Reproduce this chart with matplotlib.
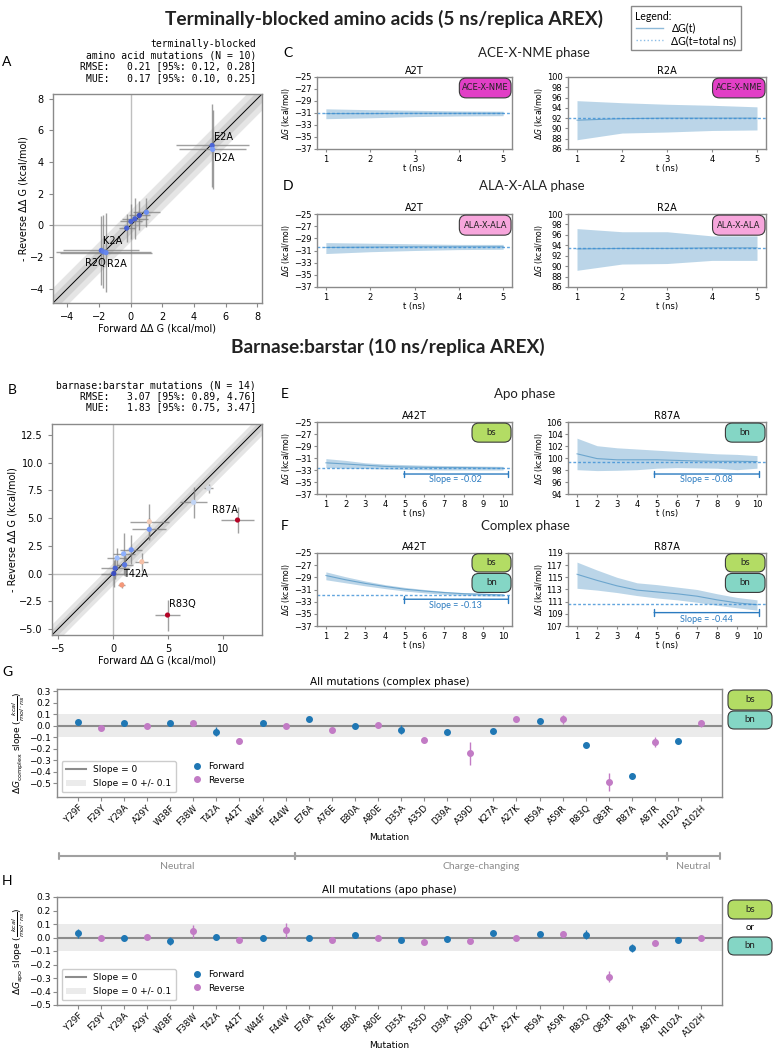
"""Recreate the AREX convergence figure (panels A-H)."""

import matplotlib
matplotlib.use("Agg")
import matplotlib.pyplot as plt
import matplotlib.transforms as mtransforms
import numpy as np
from matplotlib.lines import Line2D
from matplotlib.patches import Patch, FancyBboxPatch

W, H = 780, 1050
BLUE = "#1f77b4"
PINK = "#c27bc5"
SLOPE_BLUE = "#2b7bc0"
TITLE_FONT = "Lato"

# ---- panel A: terminally-blocked amino acids --------------------------------
a_labels = ["E2A", "D2A", "K2A", "R2Q", "R2A", "", "", "", "", ""]
a_fwd = [5.15, 5.18, -1.85, -1.72, -1.55, -0.25, 0.02, 0.27, 0.55, 1.0]
a_rev = [5.05, 4.8, -1.58, -1.66, -1.72, -0.17, 0.25, 0.42, 0.63, 0.83]
a_fwd_err = [2.3, 2.1, 2.4, 3.0, 2.9, 0.5, 0.7, 0.8, 0.65, 0.85]
a_rev_err = [2.6, 2.5, 2.2, 2.3, 2.5, 0.9, 1.1, 1.3, 0.9, 0.9]
a_colors = ["#4b64d5", "#7a9af8", "#5470de", "#5d7ce6", "#6687ed",
            "#4961d2", "#4b64d5", "#4961d2", "#3d50c3", "#6c8ff1"]
a_stats = ("terminally-blocked\namino acid mutations (N = 10)\n"
           "RMSE:   0.21 [95%: 0.12, 0.28]\nMUE:   0.17 [95%: 0.10, 0.25]")

# ---- panel B: barnase:barstar ------------------------------------------------
b_labels = ["", "", "", "", "", "", "T42A", "", "", "", "", "", "R87A", "R83Q"]
b_fwd = [0.05, 0.18, 0.36, 0.95, 1.04, 1.64, 0.78, 2.6, 3.28, 3.28, 7.3, 8.66, 11.28, 4.93]
b_rev = [0.0, 0.48, 1.4, 1.78, 0.79, 2.14, -1.03, 1.06, 4.68, 3.99, 6.43, 7.7, 4.83, -3.75]
b_fwd_err = [1.2, 1.3, 0.9, 1.0, 0.8, 1.0, 0.3, 0.6, 1.75, 1.55, 1.25, 0.4, 1.5, 1.1]
b_rev_err = [1.2, 1.0, 0.9, 1.9, 1.0, 1.3, 0.3, 0.8, 1.6, 1.0, 1.4, 0.4, 1.2, 1.4]
b_colors = ["#3b4cc0", "#4a63d3", "#9ebeff", "#8db0fe", "#5977e3", "#6f92f3", "#f4987a",
            "#f5c0a7", "#f2cbb7", "#7396f5", "#c0d4f5", "#d5dbe5", "#b40426", "#b40426"]
b_stats = ("barnase:barstar mutations (N = 14)\n"
           "RMSE:   3.07 [95%: 0.89, 4.76]\nMUE:   1.83 [95%: 0.75, 3.47]")

# ---- panels C/D: dG(t) for terminally-blocked (5 ns) -------------------------
t5 = [1, 2, 3, 4, 5]
c_a2t_mean = [-31.1, -31.1, -31.05, -31.05, -31.05]
c_a2t_hi = [-30.3, -30.45, -30.55, -30.65, -30.7]
c_a2t_lo = [-31.95, -31.8, -31.6, -31.5, -31.45]
c_a2t_final = -31.05
c_r2a_mean = [91.6, 91.9, 92.0, 92.0, 92.0]
c_r2a_hi = [95.4, 95.0, 94.7, 94.5, 94.2]
c_r2a_lo = [87.8, 89.1, 89.3, 89.6, 89.7]
c_r2a_final = 92.0
d_a2t_mean = [-30.5, -30.45, -30.4, -30.4, -30.4]
d_a2t_hi = [-29.7, -29.8, -29.9, -30.0, -30.0]
d_a2t_lo = [-31.5, -31.2, -31.0, -30.85, -30.8]
d_a2t_final = -30.4
d_r2a_mean = [93.3, 93.4, 93.4, 93.5, 93.5]
d_r2a_hi = [97.2, 96.6, 96.6, 95.8, 95.8]
d_r2a_lo = [89.2, 90.4, 90.5, 91.1, 91.1]
d_r2a_final = 93.5

# ---- panels E/F: dG(t) for barnase:barstar (10 ns) ---------------------------
t10 = [1, 2, 3, 4, 5, 6, 7, 8, 9, 10]
e_a42t_mean = [-31.8, -32.0, -32.2, -32.4, -32.5, -32.55, -32.6, -32.6, -32.65, -32.7]
e_a42t_hi = [-31.1, -31.4, -31.8, -32.0, -32.1, -32.2, -32.25, -32.3, -32.35, -32.4]
e_a42t_lo = [-32.6, -32.7, -32.75, -32.85, -32.9, -32.95, -33.0, -33.0, -33.0, -33.0]
e_a42t_final = -32.7
e_r87a_mean = [100.7, 99.9, 99.7, 99.7, 99.7, 99.6, 99.5, 99.45, 99.45, 99.4]
e_r87a_hi = [103.3, 102.05, 101.7, 101.5, 101.3, 101.1, 100.9, 100.7, 100.6, 100.4]
e_r87a_lo = [98.05, 97.9, 97.95, 98.05, 98.3, 98.4, 98.35, 98.3, 98.05, 98.3]
e_r87a_final = 99.35
f_a42t_mean = [-28.7, -29.4, -30.0, -30.5, -30.95, -31.25, -31.5, -31.7, -31.8, -31.9]
f_a42t_hi = [-28.1, -28.9, -29.6, -30.2, -30.65, -31.0, -31.3, -31.5, -31.6, -31.7]
f_a42t_lo = [-29.4, -29.9, -30.4, -30.85, -31.25, -31.55, -31.8, -31.95, -32.05, -32.1]
f_a42t_final = -31.9
f_r87a_mean = [115.5, 114.5, 113.6, 112.9, 112.6, 112.3, 111.9, 111.3, 110.8, 110.5]
f_r87a_hi = [117.5, 116.2, 115.0, 114.1, 113.8, 113.4, 113.0, 112.3, 111.7, 111.3]
f_r87a_lo = [113.2, 112.9, 112.5, 112.0, 111.6, 111.3, 110.9, 110.4, 110.0, 109.6]
f_r87a_final = 110.6
slope_labels = ["Slope = -0.02", "Slope = -0.08", "Slope = -0.13", "Slope = -0.44"]

# ---- panels G/H: slopes per mutation -----------------------------------------
mutations = ["Y29F", "F29Y", "Y29A", "A29Y", "W38F", "F38W", "T42A", "A42T", "W44F", "F44W",
             "E76A", "A76E", "E80A", "A80E", "D35A", "A35D", "D39A", "A39D", "K27A", "A27K",
             "R59A", "A59R", "R83Q", "Q83R", "R87A", "A87R", "H102A", "A102H"]
complex_slope = [0.03, -0.02, 0.025, 0.0, 0.02, 0.02, -0.05, -0.13, 0.025, 0.0,
                 0.055, -0.035, 0.0, 0.005, -0.035, -0.12, -0.05, -0.24, -0.043, 0.06,
                 0.045, 0.055, -0.165, -0.49, -0.44, -0.14, -0.13, 0.02]
complex_err = [0.015, 0.012, 0.02, 0.012, 0.012, 0.015, 0.04, 0.02, 0.012, 0.012,
               0.012, 0.012, 0.015, 0.012, 0.04, 0.015, 0.025, 0.1, 0.012, 0.02,
               0.012, 0.04, 0.015, 0.08, 0.025, 0.045, 0.015, 0.03]
apo_slope = [0.03, 0.0, 0.0, 0.003, -0.025, 0.045, 0.003, -0.02, -0.005, 0.055,
             -0.005, -0.015, 0.017, 0.0, -0.02, -0.035, -0.012, -0.027, 0.035, -0.005,
             0.028, 0.025, 0.022, -0.29, -0.077, -0.038, -0.015, 0.0]
apo_err = [0.03, 0.012, 0.015, 0.012, 0.03, 0.05, 0.015, 0.015, 0.02, 0.055,
           0.015, 0.012, 0.02, 0.012, 0.015, 0.015, 0.015, 0.015, 0.015, 0.015,
           0.015, 0.02, 0.03, 0.04, 0.03, 0.02, 0.015, 0.012]
groups = ["Neutral", "Charge-changing", "Neutral"]
group_edges = [-0.8, 9.4, 25.5, 27.8]

plt.rcParams.update({
    "font.family": ["DejaVu Sans"],
    "axes.edgecolor": "#8a8a8a",
    "xtick.color": "#8a8a8a",
    "ytick.color": "#8a8a8a",
    "xtick.labelcolor": "black",
    "ytick.labelcolor": "black",
    "axes.linewidth": 1.0,
})

fig = plt.figure(figsize=(W / 100, H / 100), dpi=100)


def px_axes(l, t, r, b):
    return fig.add_axes([l / W, 1 - b / H, (r - l) / W, (b - t) / H])


def fig_text(x, y, s, **kw):
    return fig.text(x / W, 1 - y / H, s, **kw)


def tag(ax, x0, y0, w, h, text, color, tfs=7, family=TITLE_FONT, transform=None,
        aspect=1.0, rounding=0.035):
    target = ax if ax is not None else fig
    tr = transform if transform is not None else ax.transAxes
    box = FancyBboxPatch((x0, y0), w, h, boxstyle=f"round,pad=0,rounding_size={rounding}",
                         mutation_aspect=aspect, transform=tr, fc=color,
                         ec="#3a3a3a", lw=0.8, clip_on=False, zorder=5)
    target.add_artist(box)
    target.text(x0 + w / 2, y0 + h / 2, text, transform=tr, ha="center", va="center",
                fontsize=tfs, family=family, color="#222222", zorder=6)


def scatter_panel(ax, fwd, rev, fwd_err, rev_err, colors, labels, lim, ticks, offsets):
    ax.fill_between(lim, [lim[0] - 1, lim[1] - 1], [lim[0] + 1, lim[1] + 1],
                    color="gray", alpha=0.2, lw=0)
    ax.fill_between(lim, [lim[0] - 0.5, lim[1] - 0.5], [lim[0] + 0.5, lim[1] + 0.5],
                    color="gray", alpha=0.2, lw=0)
    ax.plot(lim, lim, color="black", lw=0.7)
    ax.axhline(0, color="gray", lw=1, alpha=0.5)
    ax.axvline(0, color="gray", lw=1, alpha=0.5)
    ax.errorbar(fwd, rev, xerr=fwd_err, yerr=rev_err, fmt="none", ecolor="gray",
                alpha=0.75, lw=1, zorder=2)
    ax.scatter(fwd, rev, c=colors, s=14, zorder=3, lw=0)
    for x, y, lab in zip(fwd, rev, labels):
        if lab:
            dx, dy, ha = offsets[lab]
            ax.annotate(lab, (x, y), xytext=(dx, dy), textcoords="offset points",
                        ha=ha, va="center", fontsize=7)
    ax.set_xlim(lim)
    ax.set_ylim(lim)
    ax.set_xticks(ticks)
    ax.set_yticks(ticks)
    ax.tick_params(labelsize=7, length=3)
    ax.set_xlabel("Forward ΔΔ G (kcal/mol)", fontsize=7, labelpad=1)
    ax.set_ylabel("- Reverse ΔΔ G (kcal/mol)", fontsize=7, labelpad=1)


def series_panel(ax, t, mean, lo, hi, final, title, yticks):
    ax.fill_between(t, lo, hi, color=BLUE, alpha=0.3, lw=0)
    ax.plot(t, mean, color=BLUE, alpha=0.5, lw=0.8)
    ax.axhline(final, color="#3b8fd6", ls=(0, (2, 1.5)), lw=1.0, alpha=0.8)
    ax.set_ylim(yticks[0], yticks[-1])
    ax.set_yticks(yticks)
    ax.set_xticks(t)
    ax.set_title(title, fontsize=7, pad=2)
    ax.tick_params(labelsize=6, length=2.5, pad=1.5)
    ax.set_xlabel("t (ns)", fontsize=6, labelpad=0)
    ax.set_ylabel(r"$\Delta G$ (kcal/mol)", fontsize=5.5, labelpad=1)


def slope_bar(ax, x0, x1, y, ytext, label):
    ax.annotate("", xy=(x0, y), xytext=(x1, y),
                arrowprops=dict(arrowstyle="|-|,widthA=0.25,widthB=0.25", color=SLOPE_BLUE,
                                lw=1.0, shrinkA=0, shrinkB=0))
    ax.text((x0 + x1) / 2, ytext, label, ha="center", va="center", fontsize=6.5,
            family=TITLE_FONT, color=SLOPE_BLUE)


def slope_panel(ax, values, errs, title, ylabel, ylim, leg_y):
    x = np.arange(len(mutations))
    fwd = x % 2 == 0
    vals = np.array(values)
    err = np.array(errs)
    ax.axhspan(-0.1, 0.1, color="#d8d8d8", alpha=0.5, lw=0)
    ax.axhline(0, color="#8c8c8c", lw=1.5)
    ax.errorbar(x[fwd], vals[fwd], yerr=err[fwd], fmt="o", color=BLUE, ms=4, lw=1, zorder=3)
    ax.errorbar(x[~fwd], vals[~fwd], yerr=err[~fwd], fmt="o", color=PINK, ms=4, lw=1, zorder=3)
    ax.set_xlim(-0.9, 27.9)
    ax.set_ylim(ylim)
    ax.set_yticks(np.round(np.arange(-5, 4) * 0.1, 1))
    ax.set_xticks(x)
    ax.set_xticklabels(mutations, rotation=45, ha="right", rotation_mode="anchor")
    ax.tick_params(axis="y", labelsize=6.5, length=3, pad=1.5)
    ax.tick_params(axis="x", labelsize=6.3, length=3, pad=1.5)
    ax.set_title(title, fontsize=7.5, pad=3)
    ax.set_xlabel("Mutation", fontsize=6.5, labelpad=2)
    ax.set_ylabel(ylabel, fontsize=6.5, labelpad=1)
    leg1 = ax.legend([Line2D([0], [0], color="#8c8c8c", lw=1.5), Patch(fc="#ebebeb")],
                     ["Slope = 0", "Slope = 0 +/- 0.1"], loc="lower left", fontsize=6.5,
                     fancybox=True, framealpha=1, edgecolor="#cccccc", handlelength=2.2,
                     borderpad=0.5)
    ax.add_artist(leg1)
    ax.legend([Line2D([], [], marker="o", ls="none", color=BLUE, ms=4),
               Line2D([], [], marker="o", ls="none", color=PINK, ms=4)],
              ["Forward", "Reverse"], loc="lower left", bbox_to_anchor=(0.185, leg_y),
              fontsize=6.5, frameon=False, handletextpad=0.2)


# ---- titles ----------------------------------------------------------------------
fig_text(384, 19, "Terminally-blocked amino acids (5 ns/replica AREX)", ha="center",
         va="center", fontsize=13.8, weight="bold", family=TITLE_FONT, color="#222222")
fig_text(388, 347, "Barnase:barstar (10 ns/replica AREX)", ha="center", va="center",
         fontsize=13.8, weight="bold", family=TITLE_FONT, color="#222222")

legend_handles = [Line2D([0], [0], color=BLUE, alpha=0.5, lw=1),
                  Line2D([0], [0], color="#3b8fd6", alpha=0.6, lw=1, ls=":")]
fig.legend(legend_handles, ["ΔG(t)", "ΔG(t=total ns)"], title="Legend:", loc="upper left",
           bbox_to_anchor=(626 / W, 1 - 1 / H), alignment="left", fancybox=False,
           edgecolor="#8a8a8a", prop={"family": TITLE_FONT, "size": 7.6},
           title_fontproperties={"family": TITLE_FONT, "size": 7.6}, handlelength=2.6,
           borderpad=0.4, labelspacing=0.12, framealpha=1)

for letter, x, y in [("A", 7, 62), ("B", 12, 390), ("C", 288, 53), ("D", 288, 186),
                     ("E", 285, 394), ("F", 285, 526), ("G", 7, 672), ("H", 7, 881)]:
    fig_text(x, y, letter, ha="center", va="center", fontsize=10, family=TITLE_FONT)

for name, x, y in [("ACE-X-NME phase", 534, 53), ("ALA-X-ALA phase", 532, 186),
                   ("Apo phase", 525, 394), ("Complex phase", 525, 526)]:
    fig_text(x, y, name, ha="center", va="center", fontsize=9.5, family=TITLE_FONT,
             color="#222222")

# ---- A and B -----------------------------------------------------------------------
ax_a = px_axes(53, 94, 262, 303)
scatter_panel(ax_a, a_fwd, a_rev, a_fwd_err, a_rev_err, a_colors, a_labels, (-4.9, 8.3),
              [-4, -2, 0, 2, 4, 6, 8],
              {"E2A": (1, 6, "left"), "D2A": (1, -6, "left"), "K2A": (1, 7, "left"),
               "R2Q": (2, -8, "right"), "R2A": (1, -8, "left")})
fig_text(256, 39, a_stats, ha="right", va="top", fontsize=7, family="DejaVu Sans Mono",
         linespacing=1.15, multialignment="right")

ax_b = px_axes(52, 424, 262, 635)
scatter_panel(ax_b, b_fwd, b_rev, b_fwd_err, b_rev_err, b_colors, b_labels, (-5.55, 13.5),
              [-5, 0, 5, 10], {"T42A": (1, 8, "left"), "R87A": (0, 7, "right"),
                                "R83Q": (1, 8, "left")})
ax_b.set_yticks([-5.0, -2.5, 0.0, 2.5, 5.0, 7.5, 10.0, 12.5])
fig_text(256, 380, b_stats, ha="right", va="top", fontsize=7, family="DejaVu Sans Mono",
         linespacing=1.15, multialignment="right")

# ---- C, D, E, F --------------------------------------------------------------------
left_ticks = list(range(-37, -24, 2))
ax = px_axes(317, 77, 512, 149)
series_panel(ax, t5, c_a2t_mean, c_a2t_lo, c_a2t_hi, c_a2t_final, "A2T", left_ticks)
tag(ax, 0.73, 0.71, 0.265, 0.275, "ACE-X-NME", "#e23fc6", tfs=6, family="DejaVu Sans",
    aspect=195 / 72)
ax = px_axes(568, 77, 766, 149)
series_panel(ax, t5, c_r2a_mean, c_r2a_lo, c_r2a_hi, c_r2a_final, "R2A", list(range(86, 101, 2)))
tag(ax, 0.73, 0.71, 0.265, 0.275, "ACE-X-NME", "#e23fc6", tfs=6, family="DejaVu Sans",
    aspect=198 / 72)
ax = px_axes(317, 214, 512, 287)
series_panel(ax, t5, d_a2t_mean, d_a2t_lo, d_a2t_hi, d_a2t_final, "A2T", left_ticks)
tag(ax, 0.73, 0.71, 0.265, 0.275, "ALA-X-ALA", "#f7a6dc", tfs=6, family="DejaVu Sans",
    aspect=195 / 73)
ax = px_axes(568, 214, 766, 287)
series_panel(ax, t5, d_r2a_mean, d_r2a_lo, d_r2a_hi, d_r2a_final, "R2A", list(range(86, 101, 2)))
tag(ax, 0.73, 0.71, 0.265, 0.275, "ALA-X-ALA", "#f7a6dc", tfs=6, family="DejaVu Sans",
    aspect=198 / 73)

BS, BN = "#b3dc64", "#84d6c5"
ax = px_axes(317, 422, 512, 494)
series_panel(ax, t10, e_a42t_mean, e_a42t_lo, e_a42t_hi, e_a42t_final, "A42T", left_ticks)
tag(ax, 0.795, 0.72, 0.2, 0.265, "bs", BS, aspect=195 / 72)
slope_bar(ax, 4.95, 10.25, -33.67, -34.6, slope_labels[0])
ax = px_axes(568, 422, 766, 494)
series_panel(ax, t10, e_r87a_mean, e_r87a_lo, e_r87a_hi, e_r87a_final, "R87A",
             list(range(94, 107, 2)))
tag(ax, 0.795, 0.72, 0.2, 0.265, "bn", BN, aspect=198 / 72)
slope_bar(ax, 4.86, 10.1, 97.33, 96.35, slope_labels[1])
ax = px_axes(317, 553, 512, 626)
series_panel(ax, t10, f_a42t_mean, f_a42t_lo, f_a42t_hi, f_a42t_final, "A42T", left_ticks)
tag(ax, 0.795, 0.74, 0.2, 0.25, "bs", BS, aspect=195 / 73)
tag(ax, 0.795, 0.46, 0.2, 0.26, "bn", BN, aspect=195 / 73)
slope_bar(ax, 4.95, 10.25, -32.6, -33.7, slope_labels[2])
ax = px_axes(568, 553, 766, 626)
series_panel(ax, t10, f_r87a_mean, f_r87a_lo, f_r87a_hi, f_r87a_final, "R87A",
             list(range(107, 120, 2)))
tag(ax, 0.795, 0.74, 0.2, 0.25, "bs", BS, aspect=198 / 73)
tag(ax, 0.795, 0.46, 0.2, 0.26, "bn", BN, aspect=198 / 73)
slope_bar(ax, 4.86, 10.1, 109.2, 108.1, slope_labels[3])

# ---- G and H -----------------------------------------------------------------------
ax_g = px_axes(57, 689, 722, 797)
slope_panel(ax_g, complex_slope, complex_err, "All mutations (complex phase)",
            r"$\Delta G_{\mathrm{complex}}$ slope ($\frac{kcal}{mol \cdot ns}$)", (-0.62, 0.32), 0.04)
ax_h = px_axes(57, 897, 722, 1005)
slope_panel(ax_h, apo_slope, apo_err, "All mutations (apo phase)",
            r"$\Delta G_{\mathrm{apo}}$ slope ($\frac{kcal}{mol \cdot ns}$)", (-0.5, 0.3), 0.04)

# category bracket under G
bt = mtransforms.blended_transform_factory(ax_g.transData, ax_g.transAxes)
y_br = (797 - 856) / 108
for name, x0, x1 in zip(groups, group_edges[:-1], group_edges[1:]):
    ax_g.annotate("", xy=(x0, y_br), xytext=(x1, y_br), xycoords=bt, textcoords=bt,
                  arrowprops=dict(arrowstyle="|-|,widthA=0.25,widthB=0.25", color="#a0a0a0",
                                  lw=1.5, shrinkA=0, shrinkB=0), annotation_clip=False)
    ax_g.text((x0 + x1) / 2, y_br - 0.1, name, transform=bt, ha="center", va="center",
              fontsize=7.5, family=TITLE_FONT, color="#8c8c8c", clip_on=False)

# protein boxes beside G and H
asp = W / H
ft = fig.transFigure
tag(None, 728 / W, 1 - 710 / H, 44 / W, 20 / H, "bs", BS, transform=ft, aspect=asp, rounding=0.008)
tag(None, 728 / W, 1 - 729 / H, 44 / W, 18 / H, "bn", BN, transform=ft, aspect=asp, rounding=0.008)
tag(None, 728 / W, 1 - 919 / H, 44 / W, 19 / H, "bs", BS, transform=ft, aspect=asp, rounding=0.008)
tag(None, 728 / W, 1 - 955 / H, 44 / W, 18 / H, "bn", BN, transform=ft, aspect=asp, rounding=0.008)
fig_text(750, 928, "or", ha="center", va="center", fontsize=7, family=TITLE_FONT)

fig.savefig("out.png", dpi=100)
